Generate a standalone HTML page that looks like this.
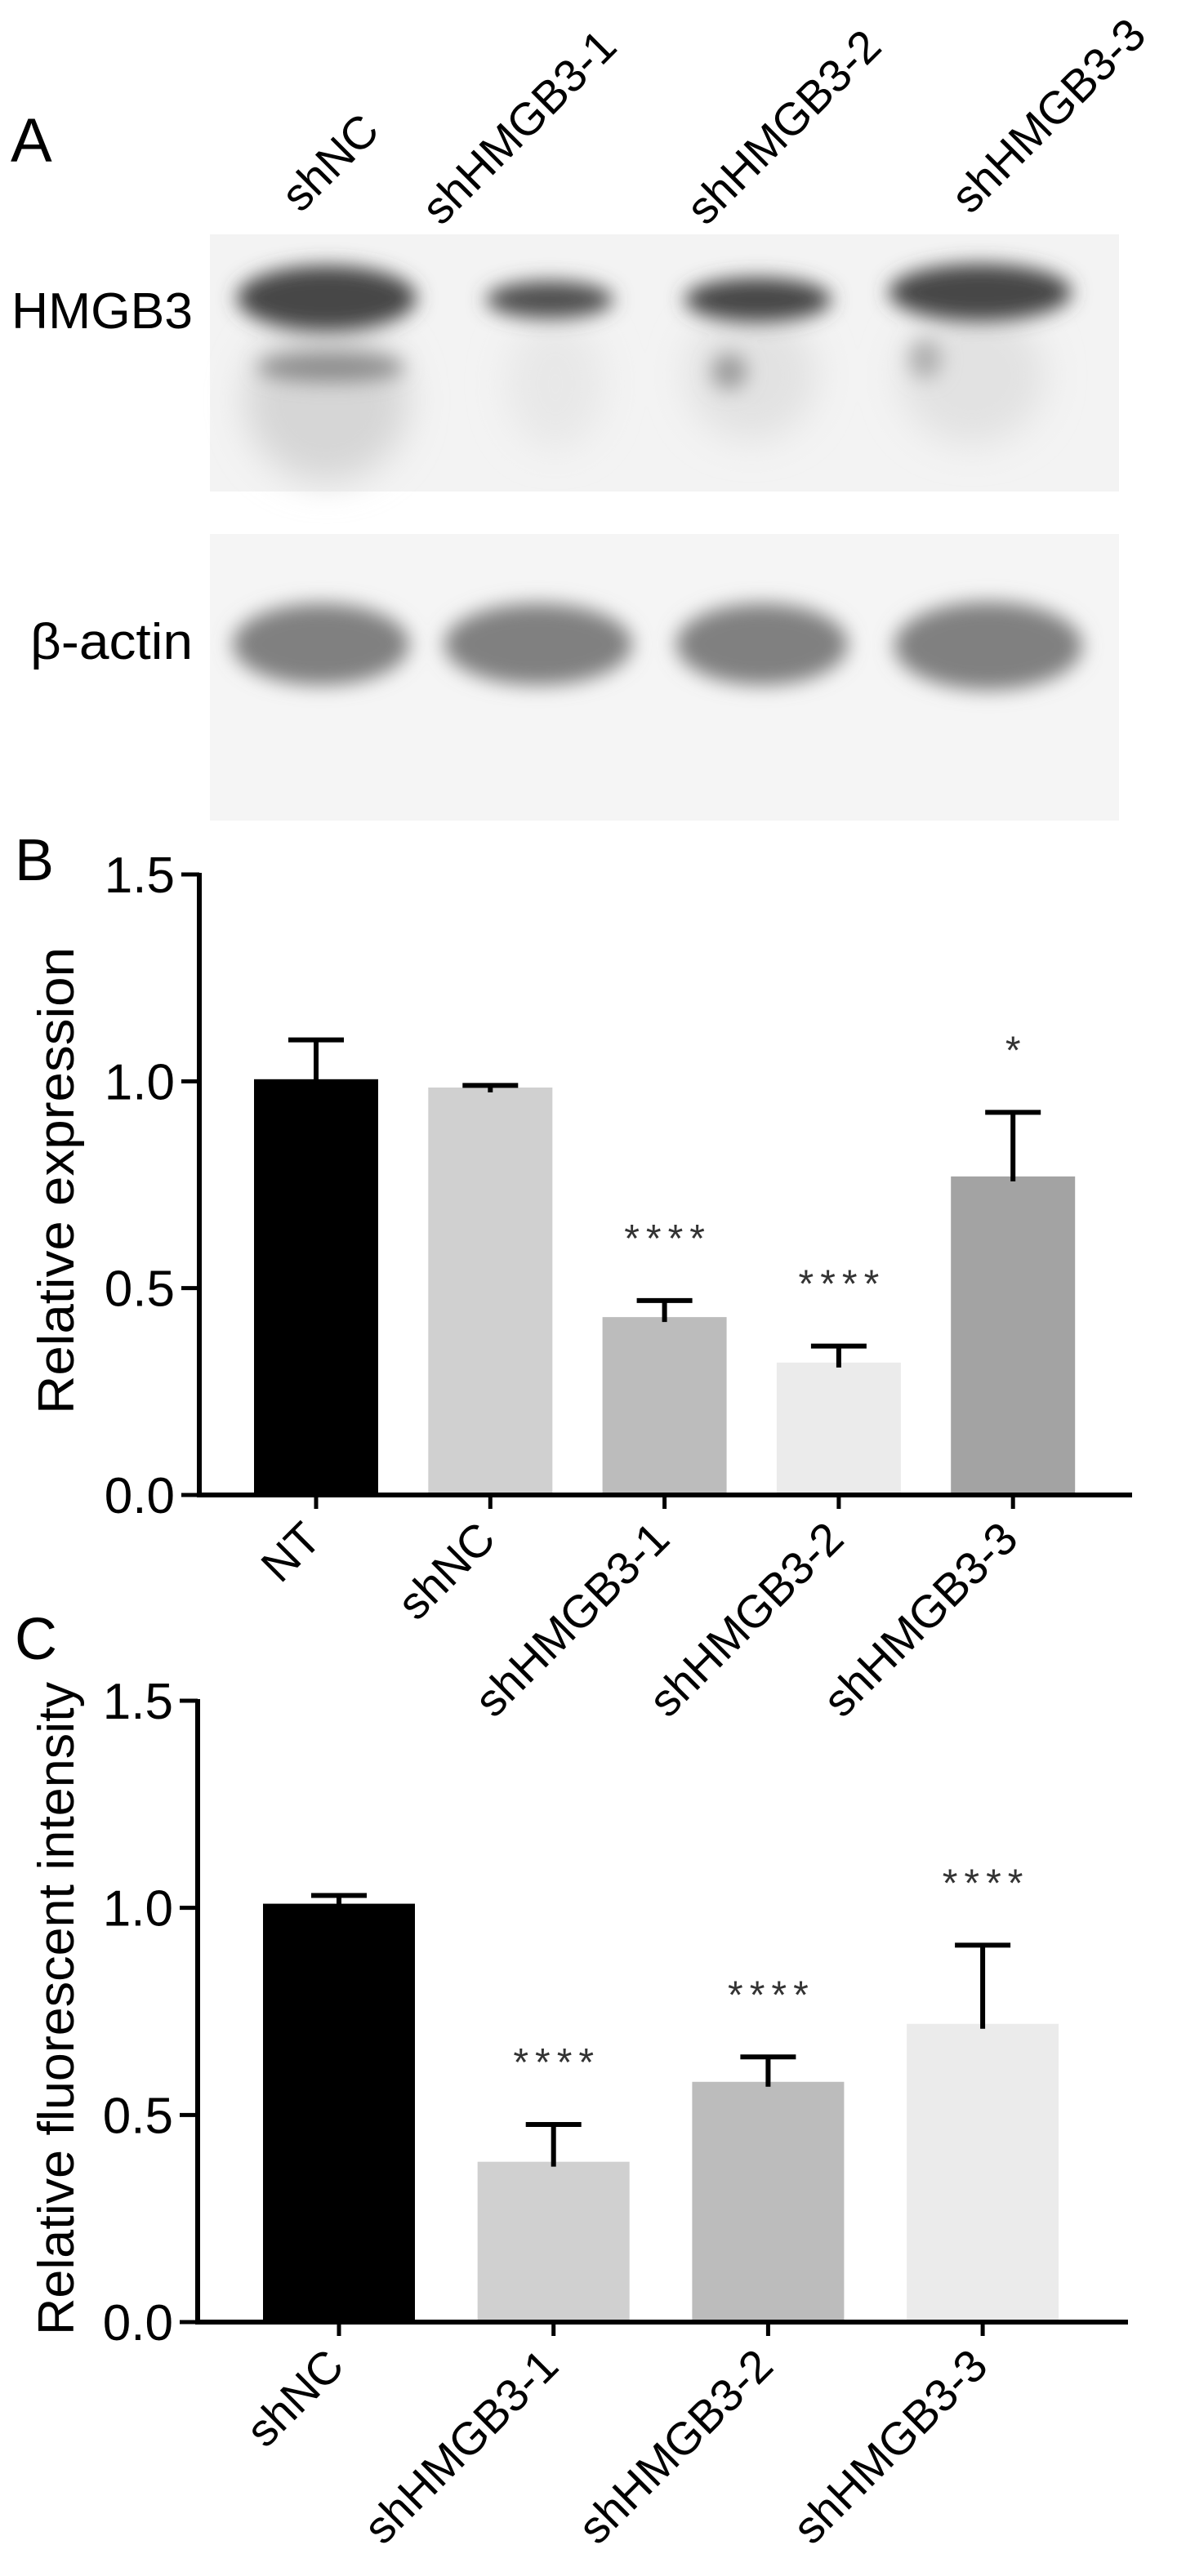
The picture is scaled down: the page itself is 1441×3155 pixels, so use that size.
<!DOCTYPE html>
<html><head><meta charset="utf-8"><style>
html,body{margin:0;padding:0;background:#fff;}
svg{display:block;font-family:"Liberation Sans",Arial,sans-serif;}
</style></head><body>
<svg id="fig" width="1441" height="3155" viewBox="0 0 1441 3155" xmlns="http://www.w3.org/2000/svg">
<defs>
<filter id="blur1" x="-30%" y="-60%" width="160%" height="220%"><feGaussianBlur stdDeviation="12"/></filter>
<filter id="blur2" x="-30%" y="-60%" width="160%" height="220%"><feGaussianBlur stdDeviation="22"/></filter>
</defs>
<text x="13" y="198" font-size="76">A</text>
<g font-size="56">
<text transform="translate(368,262) rotate(-45)">shNC</text>
<text transform="translate(540,278) rotate(-45)">shHMGB3-1</text>
<text transform="translate(864,278) rotate(-45)">shHMGB3-2</text>
<text transform="translate(1188,264) rotate(-45)">shHMGB3-3</text>
</g>
<g>
<rect x="257" y="287" width="1113" height="315" fill="#f3f3f3"/>
<g filter="url(#blur2)" fill="#d6d6d6">
<ellipse cx="400" cy="490" rx="100" ry="100"/>
<ellipse cx="680" cy="470" rx="60" ry="80" fill="#e8e8e8"/>
<ellipse cx="920" cy="460" rx="80" ry="80" fill="#e2e2e2"/>
<ellipse cx="1190" cy="460" rx="90" ry="85" fill="#e2e2e2"/>
</g>
<g filter="url(#blur1)" fill="#474747">
<ellipse cx="400" cy="365" rx="110" ry="40"/>
<ellipse cx="673" cy="367" rx="78" ry="23" fill="#505050"/>
<ellipse cx="928" cy="367" rx="90" ry="27"/>
<ellipse cx="1200" cy="358" rx="112" ry="35"/>
<ellipse cx="405" cy="450" rx="90" ry="18" fill="#8e8e8e"/>
<ellipse cx="893" cy="455" rx="22" ry="22" fill="#9e9e9e"/>
<ellipse cx="1133" cy="440" rx="20" ry="24" fill="#b0b0b0"/>
</g>
</g>
<g>
<rect x="257" y="654" width="1113" height="351" fill="#f5f5f5"/>
<g filter="url(#blur1)" fill="#808080">
<ellipse cx="393" cy="789" rx="108" ry="50"/>
<ellipse cx="659" cy="789" rx="115" ry="50"/>
<ellipse cx="933" cy="789" rx="105" ry="50"/>
<ellipse cx="1210" cy="791" rx="115" ry="54"/>
</g>
</g>
<text x="14" y="402" font-size="62" textLength="222" lengthAdjust="spacingAndGlyphs">HMGB3</text>
<text x="37" y="807" font-size="62" textLength="199" lengthAdjust="spacingAndGlyphs">β-actin</text>

<text x="18" y="1078" font-size="72">B</text>
<text x="18" y="2032" font-size="72">C</text>
<g id="chartB"></g>
<g id="chartC"></g>
</svg>
<script>
// Chart B data
const catsB = ["NT","shNC","shHMGB3-1","shHMGB3-2","shHMGB3-3"];
const valsB = [1.005, 0.985, 0.43, 0.32, 0.77];
const errsB = [0.095, 0.005, 0.04, 0.04, 0.155];
const starsB = ["", "", "****", "****", "*"];
const colorsB = ["#000000","#d0d0d0","#bcbcbc","#ebebeb","#a3a3a3"];
// Chart C data
const catsC = ["shNC","shHMGB3-1","shHMGB3-2","shHMGB3-3"];
const valsC = [1.01, 0.387, 0.58, 0.72];
const errsC = [0.02, 0.09, 0.06, 0.19];
const starsC = ["", "****", "****", "****"];
const colorsC = ["#000000","#d0d0d0","#bcbcbc","#ebebeb"];
const yTicks = [0.0, 0.5, 1.0, 1.5];
const yTickLabels = ["0.0","0.5","1.0","1.5"];

const NS = "http://www.w3.org/2000/svg";
function mk(tag, attrs, parent){const e=document.createElementNS(NS,tag);for(const k in attrs)e.setAttribute(k,attrs[k]);parent.appendChild(e);return e;}

function drawChart(g, cfg, cats, vals, errs, stars, colors){
  const y = v => cfg.y0 - v*(cfg.y0-cfg.y15)/1.5;
  const cx = i => cfg.firstCx + i*cfg.step;
  cats.forEach((c,i)=>{
    const r = mk('rect',{x:cx(i)-cfg.bw/2, y:y(vals[i]), width:cfg.bw, height:y(0)-y(vals[i]), fill:colors[i]}, g);
    
    
    const top = y(vals[i]+errs[i]);
    const el = mk('path',{d:`M${cx(i)},${y(vals[i])+6}V${top}M${cx(i)-34},${top}H${cx(i)+34}`, stroke:'#000','stroke-width':6,fill:'none'}, g);
    
    
    if(stars[i]){
      const sy = top - cfg.starGap;
      const t = mk('text',{x:cx(i)+4, y:sy, 'font-size':48, 'text-anchor':'middle', fill:'#333', 'letter-spacing':8}, g);
      t.textContent = stars[i];
      
      
    }
    const tk = mk('line',{x1:cx(i),x2:cx(i),y1:y(0),y2:y(0)+17,stroke:'#000','stroke-width':5}, g);
    
    
    const lb = mk('text',{transform:`translate(${cx(i)+9},${y(0)+57}) rotate(-45)`, 'font-size':56, 'text-anchor':'end'}, g);
    lb.textContent = c;
    
    
  });
  const ax = mk('path',{d:`M${cfg.ax},${y(1.5)-2}V${y(0)}H${cfg.xEnd}`, stroke:'#000','stroke-width':6,fill:'none'}, g);
  
  
  yTicks.forEach((v,i)=>{
    const t = mk('line',{x1:cfg.ax-22,x2:cfg.ax,y1:y(v),y2:y(v),stroke:'#000','stroke-width':5}, g);
    
    
    const l = mk('text',{x:cfg.ax-30, y:y(v)+22, 'font-size':62, 'text-anchor':'end'}, g);
    l.textContent = yTickLabels[i];
    
    
  });
  const tt = mk('text',{transform:`translate(90,${cfg.titleCy}) rotate(-90)`, 'font-size':62, 'text-anchor':'middle', textLength:cfg.titleLen, lengthAdjust:'spacingAndGlyphs'}, g);
  tt.textContent = cfg.title;
  
  
}
drawChart(document.getElementById('chartB'),
  {y0:1831, y15:1071, ax:244, xEnd:1386, firstCx:387, step:213.3, bw:152, starGap:60, titleCy:1446, titleLen:572, title:"Relative expression"},
  catsB, valsB, errsB, starsB, colorsB);
drawChart(document.getElementById('chartC'),
  {y0:2844, y15:2083, ax:242, xEnd:1381, firstCx:415, step:262.7, bw:186, starGap:60, titleCy:2460, titleLen:800, title:"Relative fluorescent intensity"},
  catsC, valsC, errsC, starsC, colorsC);
</script>
</body></html>
